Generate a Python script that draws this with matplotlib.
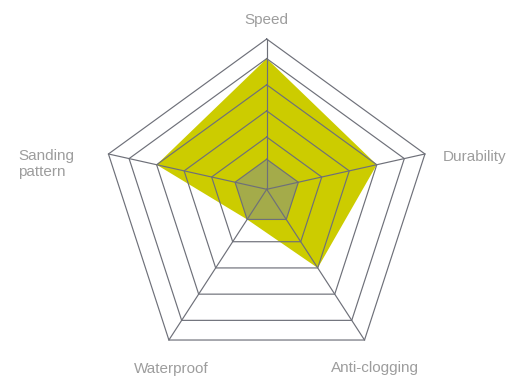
import numpy as np
import matplotlib
matplotlib.use('Agg')
import matplotlib.pyplot as plt

# data
indicators = ['Speed', 'Durability', 'Anti-clogging', 'Waterproof', 'Sanding\npattern']
scale_max = 5.75
ring_levels = [2, 3, 4, 5, 5.75]
product_values = [5, 4, 3, 1.15, 4]
baseline_values = [1.15, 1.15, 1.15, 1.15, 1.15]

# constants (pixel space)
W, H = 508, 377
cx, cy, R = 266.7, 205.4, 166.4      # outer pentagon
apex_y = 189.3                        # where the spokes meet
grid_color = '#6e7079'
text_color = '#9d9d9d'

n = len(indicators)
theta = np.deg2rad(90 - 72 * np.arange(n))
outer_x = cx + R * np.cos(theta)
outer_y = cy - R * np.sin(theta)


def to_xy(values):
    t = np.asarray(values, dtype=float) / scale_max
    x = cx + t * (outer_x - cx)
    y = apex_y + t * (outer_y - apex_y)
    return np.append(x, x[0]), np.append(y, y[0])


fig = plt.figure(figsize=(W / 100, H / 100), dpi=100)
ax = fig.add_axes([0, 0, 1, 1])
ax.set_xlim(0, W)
ax.set_ylim(H, 0)
ax.axis('off')

# series
px, py = to_xy(product_values)
ax.fill(px, py, color='#cccc00', lw=0, zorder=1)
bx, by = to_xy(baseline_values)
ax.fill(bx, by, color='#a4ab4a', lw=0, zorder=2)
ax.plot(bx, by, color=grid_color, lw=0.85, zorder=3)

# grid
for level in ring_levels:
    gx, gy = to_xy([level] * n)
    ax.plot(gx, gy, color=grid_color, lw=0.85, zorder=3)
for i in range(n):
    ax.plot([cx, outer_x[i]], [apex_y, outer_y[i]], color=grid_color, lw=0.85, zorder=3)

# labels
offsets = [(0, -19, 'center'), (18, 3, 'left'), (10, 28, 'center'),
           (2, 29, 'center'), (-90, 10, 'left')]
for i, name in enumerate(indicators):
    dx, dy, ha = offsets[i]
    ax.text(outer_x[i] + dx, outer_y[i] + dy, name, ha=ha, va='center',
            fontsize=11, color=text_color, family='Liberation Sans',
            linespacing=1.25)

fig.savefig('out.png', dpi=100)
